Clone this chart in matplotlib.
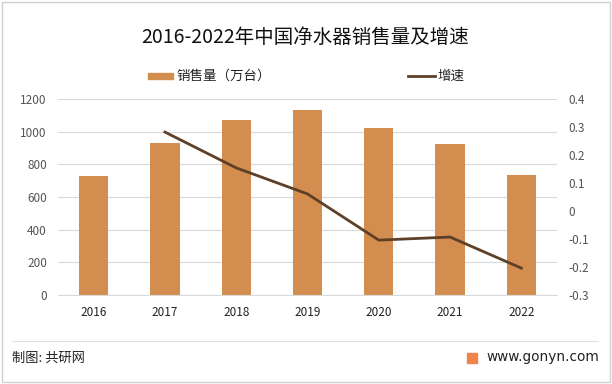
import matplotlib
matplotlib.use("Agg")
import matplotlib.pyplot as plt
from matplotlib.patches import Rectangle
from matplotlib.lines import Line2D

plt.rcParams['font.family'] = ['Noto Sans CJK SC', 'DejaVu Sans']

years = ['2016', '2017', '2018', '2019', '2020', '2021', '2022']
sales = [728, 930, 1071, 1133, 1022, 925, 735]
growth_years = ['2017', '2018', '2019', '2020', '2021', '2022']
growth = [0.282, 0.154, 0.061, -0.104, -0.093, -0.204]

bar_color = '#D38D4F'
line_color = '#5E4029'
tick_color = '#555555'

W, H = 612, 384
fig = plt.figure(figsize=(W / 100, H / 100), dpi=100)

# outer border
fig.patches.append(Rectangle((2 / W, 2 / H), 1 - 4 / W, 1 - 4 / H, transform=fig.transFigure,
                             fill=False, edgecolor='#D0D0D0', linewidth=1))

left, right = 58 / W, 557 / W
bottom, top = 1 - 295 / H, 1 - 99 / H
ax = fig.add_axes([left, bottom, right - left, top - bottom])
x = list(range(len(years)))
ax.bar(x, sales, width=0.41, color=bar_color, zorder=2)
ax.set_xlim(-0.5, len(years) - 0.5)
ax.set_ylim(0, 1200)
ax.set_yticks(range(0, 1201, 200))
ax.set_xticks(x)
ax.set_xticklabels(years)
ax.grid(axis='y', color='#D9D9D9', linewidth=0.8, zorder=0)
for s in ax.spines.values():
    s.set_visible(False)
ax.spines['bottom'].set_visible(True)
ax.spines['bottom'].set_color('#D9D9D9')
ax.tick_params(axis='both', length=0, labelsize=8.5, colors=tick_color)
ax.tick_params(axis='x', pad=8, labelcolor='#222222')
ax.tick_params(axis='y', pad=8)

ax2 = ax.twinx()
gx = [years.index(y) for y in growth_years]
ax2.plot(gx, growth, color=line_color, linewidth=2, zorder=3)
ax2.set_ylim(-0.3, 0.4)
ax2.set_yticks([0.4, 0.3, 0.2, 0.1, 0, -0.1, -0.2, -0.3])
ax2.set_yticklabels(['0.4', '0.3', '0.2', '0.1', '0', '-0.1', '-0.2', '-0.3'])
for s in ax2.spines.values():
    s.set_visible(False)
ax2.tick_params(axis='y', length=0, labelsize=8.5, colors=tick_color, pad=8)

fig.text(305 / W, 1 - 37 / H, '2016-2022年中国净水器销售量及增速', ha='center', va='center',
         fontsize=14, color='#111111')

# legend
fig.patches.append(Rectangle((148 / W, 1 - 79 / H), 25 / W, 6 / H, transform=fig.transFigure,
                             color=bar_color))
fig.text(176 / W, 1 - 76 / H, '销售量（万台）', ha='left', va='center', fontsize=9.7, color='#222222')
fig.lines.append(Line2D([408 / W, 435 / W], [1 - 76 / H, 1 - 76 / H], transform=fig.transFigure,
                        color=line_color, linewidth=2))
fig.text(437 / W, 1 - 76 / H, '增速', ha='left', va='center', fontsize=9.7, color='#222222')

# footer
fig.lines.append(Line2D([12 / W, 598 / W], [1 - 341 / H, 1 - 341 / H], transform=fig.transFigure,
                        color='#E0E0E0', linewidth=0.8))
fig.text(12 / W, 1 - 358 / H, '制图: 共研网', ha='left', va='center', fontsize=9.5, color='#222222')
fig.patches.append(Rectangle((467 / W, 1 - 363 / H), 10 / W, 10 / H, transform=fig.transFigure,
                             color='#F0844A'))
fig.text(599 / W, 1 - 357 / H, 'www.gonyn.com', ha='right', va='center', fontsize=9.8,
         color='#222222', family=['DejaVu Sans'])

fig.savefig('out.png', dpi=100)
